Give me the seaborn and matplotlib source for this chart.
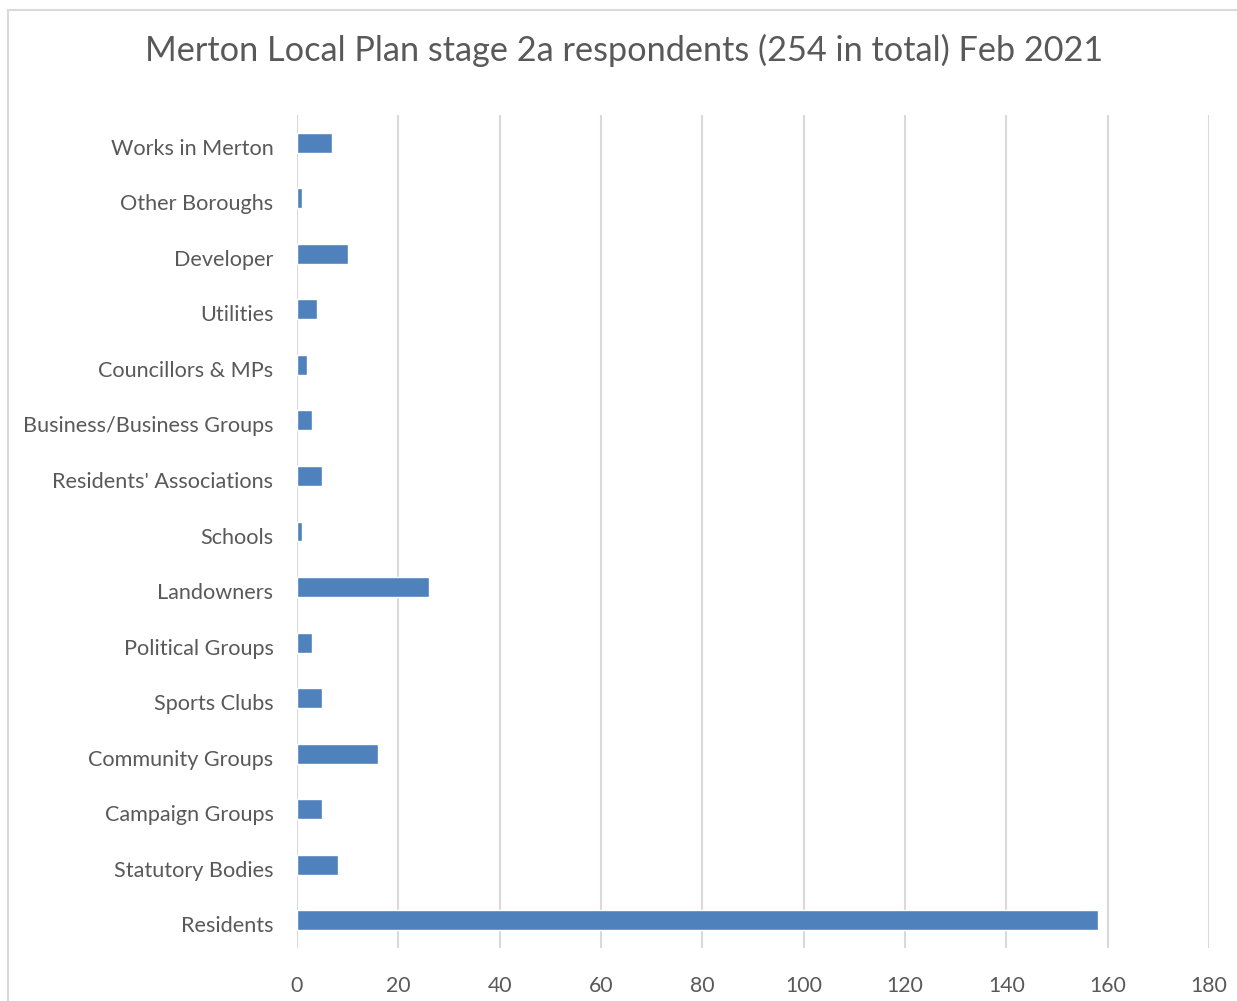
import matplotlib
matplotlib.use("Agg")
import matplotlib.pyplot as plt
import matplotlib.transforms as mtransforms
import seaborn as sns
import pandas as pd
from matplotlib.patches import Rectangle

categories = ["Works in Merton", "Other Boroughs", "Developer", "Utilities",
              "Councillors & MPs", "Business/Business Groups", "Residents' Associations",
              "Schools", "Landowners", "Political Groups", "Sports Clubs",
              "Community Groups", "Campaign Groups", "Statutory Bodies", "Residents"]
values = [7, 1, 10, 4, 2, 3, 5, 1, 26, 3, 5, 16, 5, 8, 158]
x_ticks = [0, 20, 40, 60, 80, 100, 120, 140, 160, 180]
title = "Merton Local Plan stage 2a respondents (254 in total) Feb 2021"

df = pd.DataFrame({"category": categories, "value": values})

sns.set_theme(style="white")
plt.rcParams["font.family"] = ["Lato", "DejaVu Sans"]

TEXT = "#595959"
GRID = "#D9D9D9"
BAR = "#4F81BD"

fig = plt.figure(figsize=(12.37, 10.01), dpi=100)
ax = fig.add_axes([297/1237, 1 - 948/1001, (1209-297)/1237, (948-115)/1001])

sns.barplot(data=df, y="category", x="value", order=categories, color=BAR,
            width=0.36, saturation=1, ax=ax)

ax.set_xlim(0, 180)
ax.set_xticks(x_ticks)
ax.set_xticklabels([str(t) for t in x_ticks])
ax.set_xlabel("")
ax.set_ylabel("")
ax.grid(axis="x", color=GRID, linewidth=1.5)
ax.set_axisbelow(True)
for s in ax.spines.values():
    s.set_visible(False)
ax.tick_params(axis="both", length=0, labelcolor=TEXT)
ax.tick_params(axis="y", pad=17, labelsize=15.6)
ax.tick_params(axis="x", pad=20, labelsize=15.3)

offset = mtransforms.ScaledTranslation(0, -4/100, fig.dpi_scale_trans)
for lbl in ax.get_yticklabels():
    lbl.set_transform(lbl.get_transform() + offset)

fig.text(624/1237, 1 - 50/1001, title, ha="center", va="center",
         fontsize=24.7, color=TEXT)

fig.patches.append(Rectangle((8/1237, -0.05), 1.2, 1 - 10/1001 + 0.05,
                             transform=fig.transFigure, fill=False,
                             edgecolor=GRID, linewidth=1.5, figure=fig))

fig.savefig("out.png", dpi=100, facecolor="white")
